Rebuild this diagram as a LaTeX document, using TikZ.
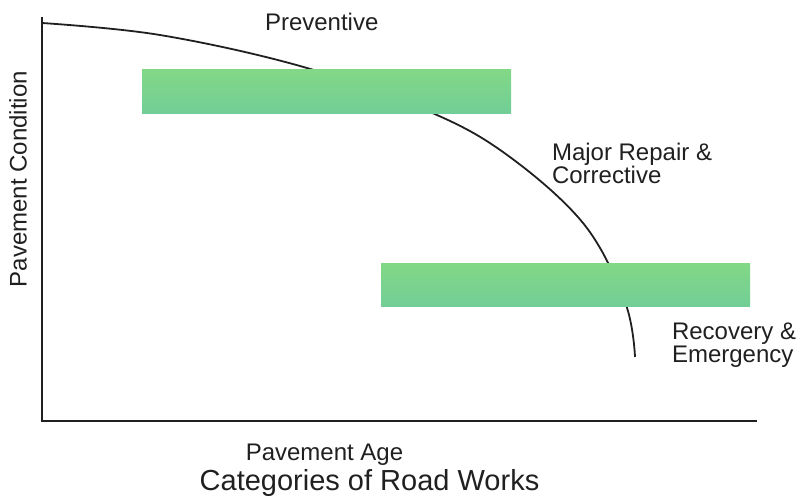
\documentclass[tikz,border=0pt]{standalone}
\usepackage{fontspec}
\usepackage{tikz}
\setsansfont{Liberation Sans}
\definecolor{barTop}{RGB}{130,216,134}
\definecolor{barBottom}{RGB}{114,206,150}
\definecolor{ink}{RGB}{32,32,32}

\begin{document}
\begin{tikzpicture}[
  x=0.5pt, y=-0.5pt,
  label/.style={font={\fontsize{12}{11.5}\selectfont\sffamily}, text=ink,
    inner sep=0pt, outer sep=0pt},
  title/.style={font={\fontsize{14.5}{16}\selectfont\sffamily}, text=ink,
    inner sep=0pt},
  bar/.style={top color=barTop, bottom color=barBottom, draw=none,
    minimum width=184.5pt, minimum height=22pt, inner sep=0pt, outer sep=0pt},
  axis/.style={line width=1pt, draw=ink},
  curve/.style={line width=0.9pt, draw=ink},
  ]
  \useasboundingbox (0,0) rectangle (796,498);
  % Axes
  \coordinate (ytop) at (42,17);
  \coordinate (origin) at (42,421);
  \coordinate (xend) at (757,421);
  \draw[axis] (ytop) -- (origin) -- (xend);
  % Condition curve, drawn first so the bars cover it
  \draw[curve] plot[smooth, tension=0.6] coordinates {
    (42,23) (160,35) (300,66) (423,109) (503,152)
    (583,223) (625,302) (635,357)};
  % Bars
  \node[bar] (preventive bar) at (326.5,91) {};
  \node[bar, minimum height=21.5pt] (recovery bar) at (565.5,284.5) {};
  % Labels
  \node[label, anchor=base west] (preventive) at (265,30) {Preventive};
  \node[label, anchor=north west, align=left] (major) at (552,143)
    {Major Repair \&\\Corrective};
  \node[label, anchor=north west, align=left] (recovery) at (672,323)
    {Recovery \&\\Emergency};
  \node[label, rotate=90] (condition) at (18,179) {Pavement Condition};
  \node[label, anchor=base] (age) at (324.5,460) {Pavement Age};
  \node[title, anchor=base] (caption) at (369.5,490) {Categories of Road Works};
\end{tikzpicture}
\end{document}
